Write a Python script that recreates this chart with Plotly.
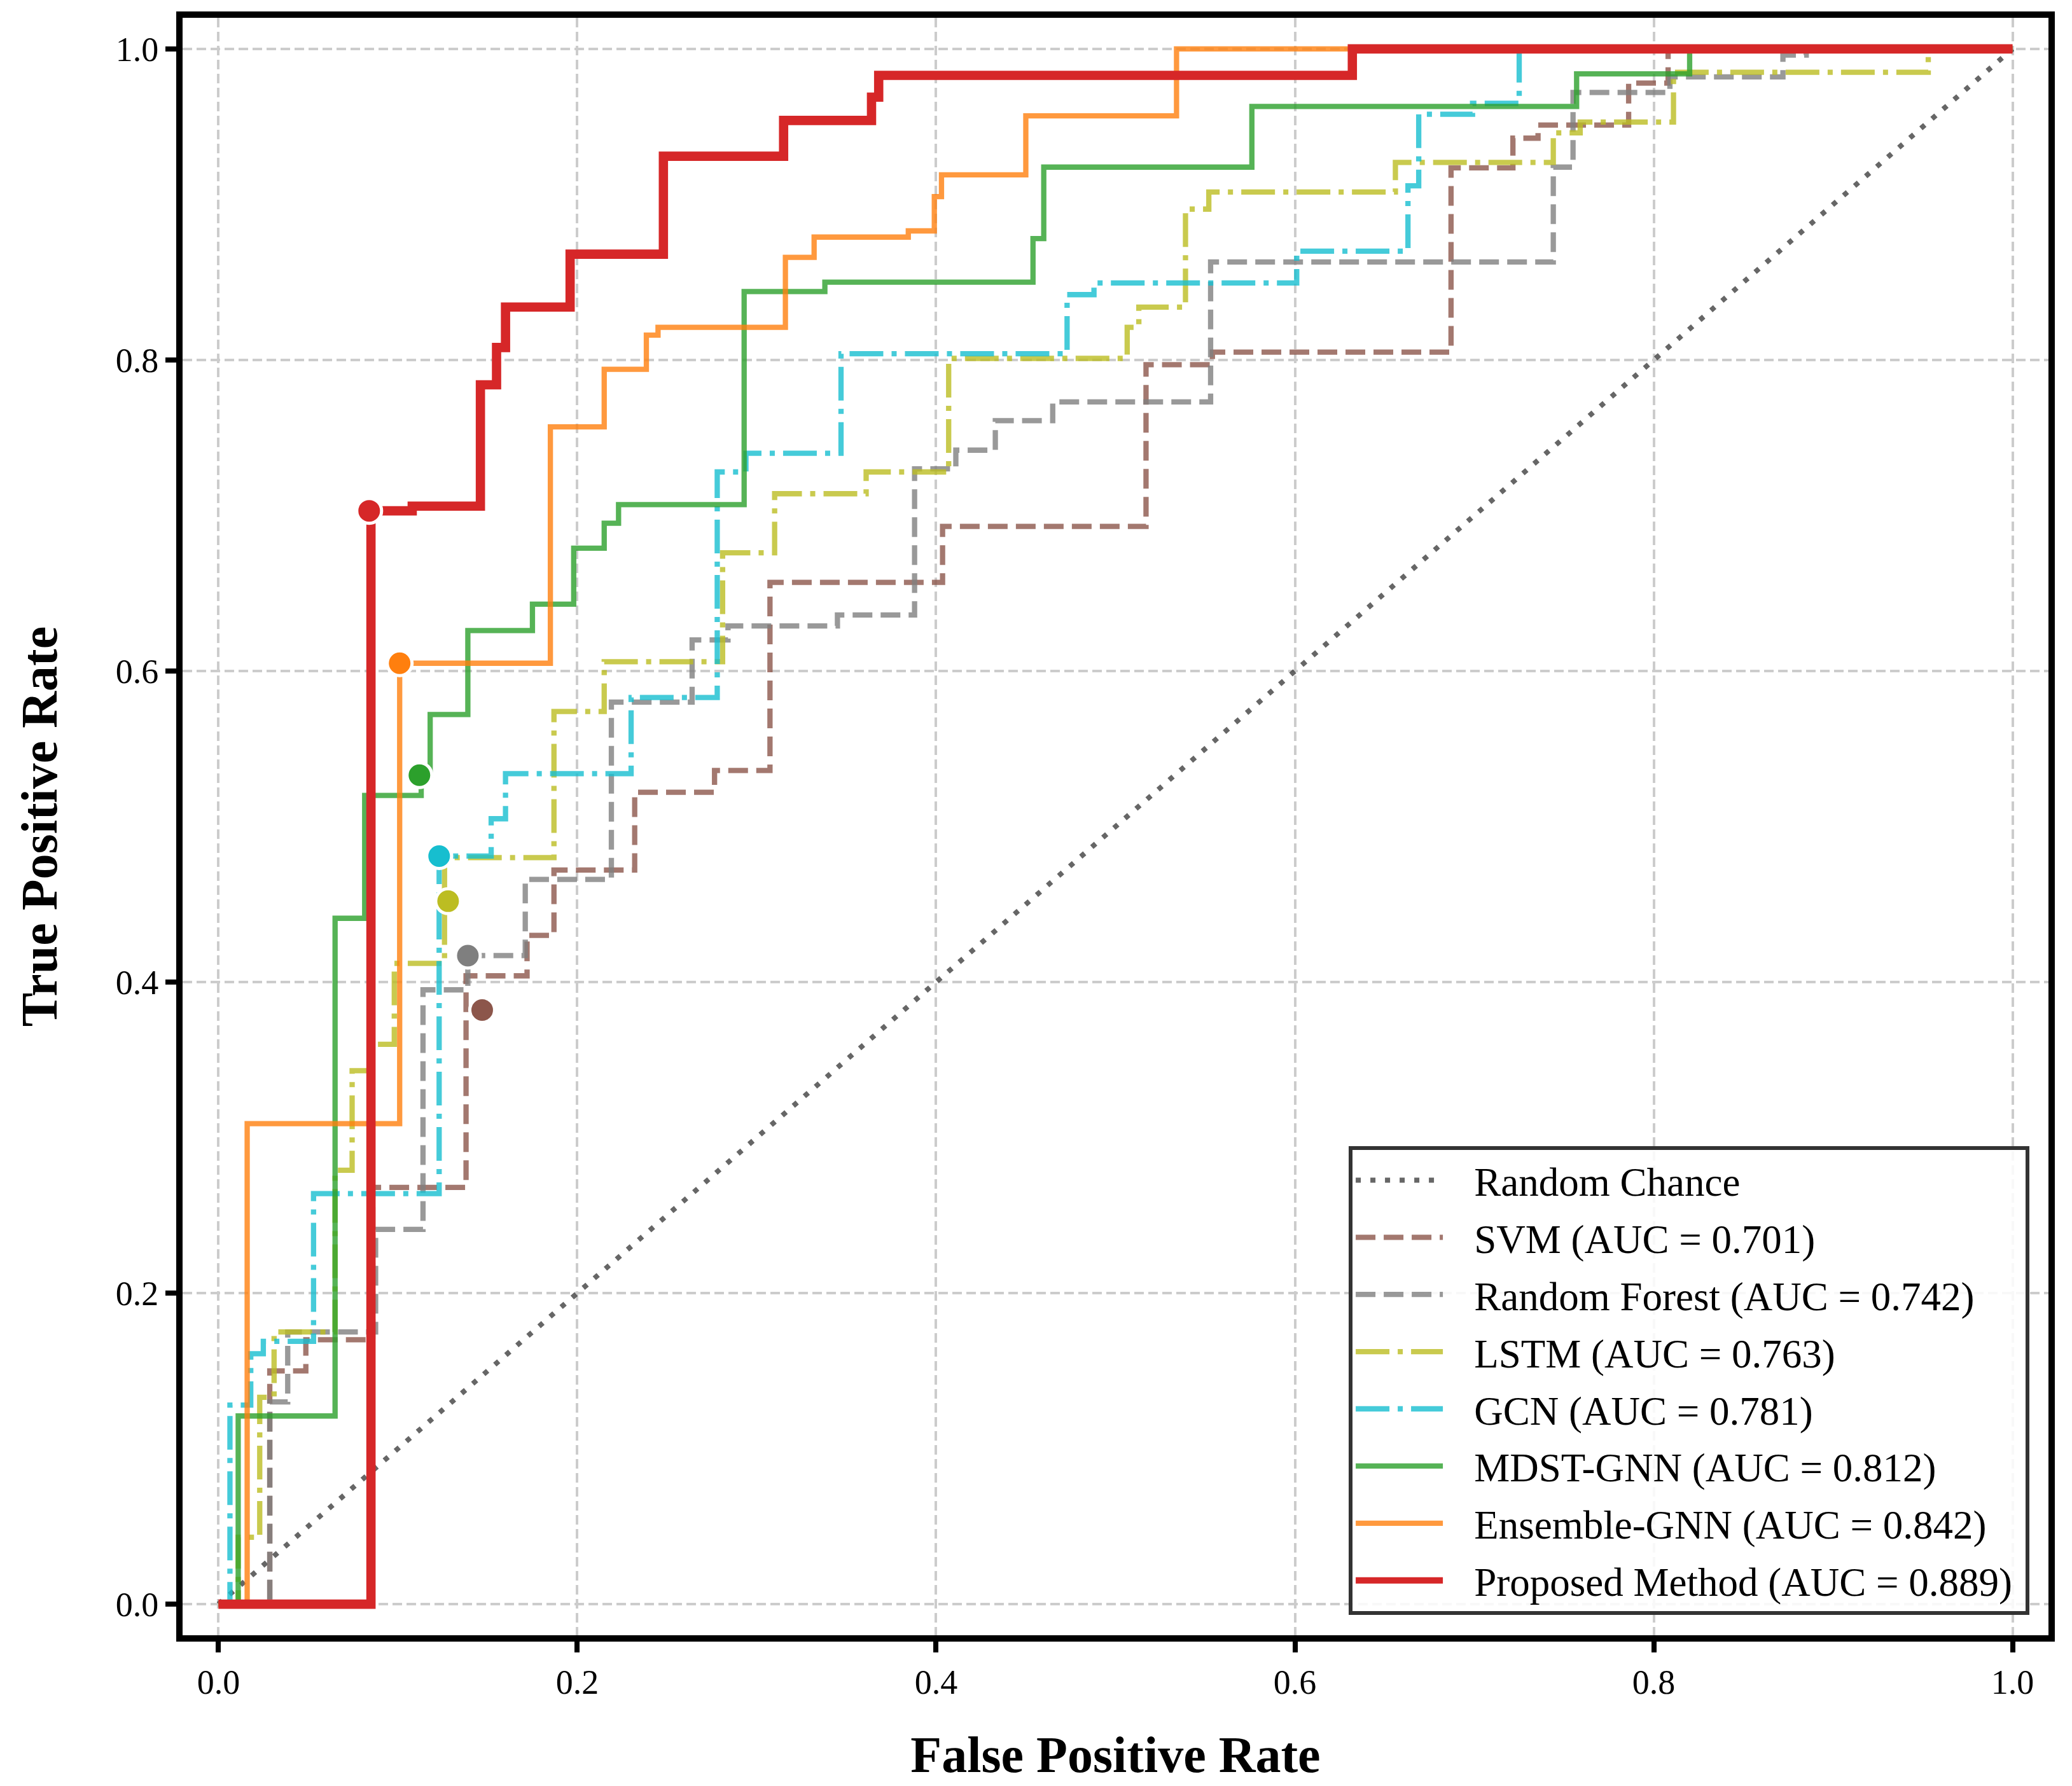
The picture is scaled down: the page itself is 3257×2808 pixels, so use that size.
import plotly.graph_objects as go

# ---------------- data (ROC step vertices: fpr of step, tpr after step) ----------------
rand_fpr = [0.0, 1.0]
rand_tpr = [0.0, 1.0]

svm_fpr = [0, 0.0286, 0.0487, 0.086, 0.138, 0.172, 0.187, 0.232, 0.2765, 0.3074, 0.4036, 0.517, 0.554, 0.687, 0.7215, 0.7355, 0.786, 0.808, 1.0]
svm_tpr = [0, 0.150, 0.170, 0.268, 0.404, 0.430, 0.472, 0.522, 0.536, 0.657, 0.693, 0.797, 0.805, 0.9235, 0.9426, 0.951, 0.978, 1.0, 1.0]

rf_fpr = [0, 0.0286, 0.0386, 0.0876, 0.114, 0.139, 0.171, 0.219, 0.264, 0.284, 0.345, 0.388, 0.411, 0.433, 0.465, 0.553, 0.744, 0.755, 0.809, 0.872, 0.885, 1.0]
rf_tpr = [0, 0.130, 0.175, 0.241, 0.395, 0.417, 0.466, 0.580, 0.620, 0.629, 0.636, 0.730, 0.742, 0.761, 0.773, 0.863, 0.924, 0.972, 0.982, 0.996, 1.0, 1.0]

lstm_fpr = [0, 0.011, 0.023, 0.031, 0.065, 0.0745, 0.085, 0.098, 0.126, 0.187, 0.215, 0.281, 0.310, 0.361, 0.407, 0.5065, 0.513, 0.539, 0.552, 0.656, 0.744, 0.759, 0.811, 0.953, 1.0]
lstm_tpr = [0, 0.043, 0.133, 0.175, 0.279, 0.343, 0.360, 0.412, 0.480, 0.574, 0.606, 0.676, 0.714, 0.728, 0.801, 0.821, 0.834, 0.897, 0.908, 0.927, 0.946, 0.953, 0.985, 1.0, 1.0]

gcn_fpr = [0, 0.0064, 0.018, 0.025, 0.053, 0.123, 0.152, 0.160, 0.230, 0.278, 0.294, 0.347, 0.473, 0.488, 0.601, 0.663, 0.669, 0.699, 0.725, 1.0]
gcn_tpr = [0, 0.128, 0.161, 0.169, 0.264, 0.481, 0.505, 0.534, 0.583, 0.728, 0.740, 0.804, 0.842, 0.8495, 0.870, 0.912, 0.958, 0.965, 1.0, 1.0]

mdst_fpr = [0, 0.011, 0.065, 0.0815, 0.113, 0.118, 0.139, 0.175, 0.198, 0.215, 0.223, 0.293, 0.338, 0.454, 0.460, 0.576, 0.757, 0.820, 1.0]
mdst_tpr = [0, 0.121, 0.441, 0.520, 0.533, 0.572, 0.626, 0.643, 0.679, 0.695, 0.707, 0.844, 0.850, 0.878, 0.924, 0.963, 0.984, 1.0, 1.0]

ens_fpr = [0, 0.016, 0.101, 0.185, 0.215, 0.2385, 0.245, 0.316, 0.332, 0.3845, 0.399, 0.403, 0.450, 0.534, 1.0]
ens_tpr = [0, 0.309, 0.605, 0.757, 0.794, 0.816, 0.821, 0.866, 0.879, 0.883, 0.905, 0.919, 0.957, 1.0, 1.0]

prop_fpr = [0, 0.085, 0.108, 0.146, 0.155, 0.160, 0.196, 0.248, 0.315, 0.364, 0.368, 0.632, 1.0]
prop_tpr = [0, 0.703, 0.706, 0.784, 0.808, 0.834, 0.868, 0.931, 0.954, 0.969, 0.983, 1.0, 1.0]

model_names = ["SVM", "Random Forest", "LSTM", "GCN", "MDST-GNN", "Ensemble-GNN", "Proposed Method"]
model_auc = [0.701, 0.742, 0.763, 0.781, 0.812, 0.842, 0.889]

# optimal operating points (one per model, same order as model_names)
opt_fpr = [0.147, 0.139, 0.128, 0.123, 0.112, 0.101, 0.084]
opt_tpr = [0.382, 0.417, 0.452, 0.481, 0.533, 0.605, 0.703]

tick_vals = [0.0, 0.2, 0.4, 0.6, 0.8, 1.0]
tick_text = ["0.0", "0.2", "0.4", "0.6", "0.8", "1.0"]

# ---------------- styles ----------------
curves = [(svm_fpr, svm_tpr), (rf_fpr, rf_tpr), (lstm_fpr, lstm_tpr), (gcn_fpr, gcn_tpr),
          (mdst_fpr, mdst_tpr), (ens_fpr, ens_tpr), (prop_fpr, prop_tpr)]
line_colors = ["rgba(140,86,75,0.8)", "rgba(127,127,127,0.8)", "rgba(188,189,34,0.8)",
               "rgba(23,190,207,0.8)", "rgba(44,160,44,0.8)", "rgba(255,127,14,0.8)", "rgb(214,39,40)"]
marker_colors = ["#8c564b", "#7f7f7f", "#bcbd22", "#17becf", "#2ca02c", "#ff7f0e", "#d62728"]
dashes = ["31px,13px", "31px,13px", "53px,13px,8px,13px", "53px,13px,8px,13px", "solid", "solid", "solid"]
widths = [8.3, 8.3, 8.3, 8.3, 8.3, 8.3, 14.6]

FONT = "Liberation Serif, Times New Roman, serif"
PAD_L = "\u2002\u2009"   # gap between legend line sample and label
PAD_R = "\u00a0"

fig = go.Figure()
fig.add_trace(go.Scatter(x=rand_fpr, y=rand_tpr, mode="lines", name=PAD_L + "Random Chance" + PAD_R,
                         legendgroup="g0",
                         line=dict(color="rgba(64,64,64,0.8)", width=8, dash="8px,15px")))
for k, ((fx, ty), name, auc, col, dsh, w) in enumerate(zip(curves, model_names, model_auc, line_colors, dashes, widths)):
    fig.add_trace(go.Scatter(x=fx, y=ty, mode="lines", line_shape="hv",
                             name=f"{PAD_L}{name} (AUC = {auc:.3f}){PAD_R}",
                             legendgroup=f"g{k + 1}",
                             line=dict(color=col, width=w, dash=dsh)))
for i in range(len(model_names)):
    fig.add_trace(go.Scatter(x=[opt_fpr[i]], y=[opt_tpr[i]], mode="markers", showlegend=False,
                             marker=dict(size=39, color=marker_colors[i], line=dict(color="white", width=5))))

axis_common = dict(range=[-0.02, 1.02], tickvals=tick_vals, ticktext=tick_text,
                   showline=True, linewidth=10, linecolor="black", mirror=True,
                   ticks="outside", ticklen=17, tickwidth=8, tickcolor="black",
                   showgrid=True, gridcolor="#cccccc", gridwidth=4, griddash="15px,7px",
                   zeroline=False, automargin=False,
                   tickfont=dict(family=FONT, size=54, color="black"))

fig.update_xaxes(**axis_common,
                 title=dict(text="False Positive Rate", standoff=60,
                            font=dict(family=FONT, size=80, color="black", weight="bold")))
fig.update_yaxes(**axis_common,
                 title=dict(text="True Positive Rate", standoff=70,
                            font=dict(family=FONT, size=80, color="black", weight="bold")))

fig.update_layout(
    width=3257, height=2808,
    margin=dict(l=287, r=37, t=28, b=237, pad=0),
    plot_bgcolor="white", paper_bgcolor="white",
    font=dict(family=FONT, size=54, color="black"),
    legend=dict(x=0.9898, y=0.0126, xanchor="right", yanchor="bottom",
                bgcolor="rgba(255,255,255,0.85)", bordercolor="#333333", borderwidth=6,
                font=dict(family=FONT, size=63, color="black"), itemwidth=137,
                tracegroupgap=5),
)

fig.write_html("out.html", config={"displayModeBar": False},
               post_script="document.body.style.margin='0';")
